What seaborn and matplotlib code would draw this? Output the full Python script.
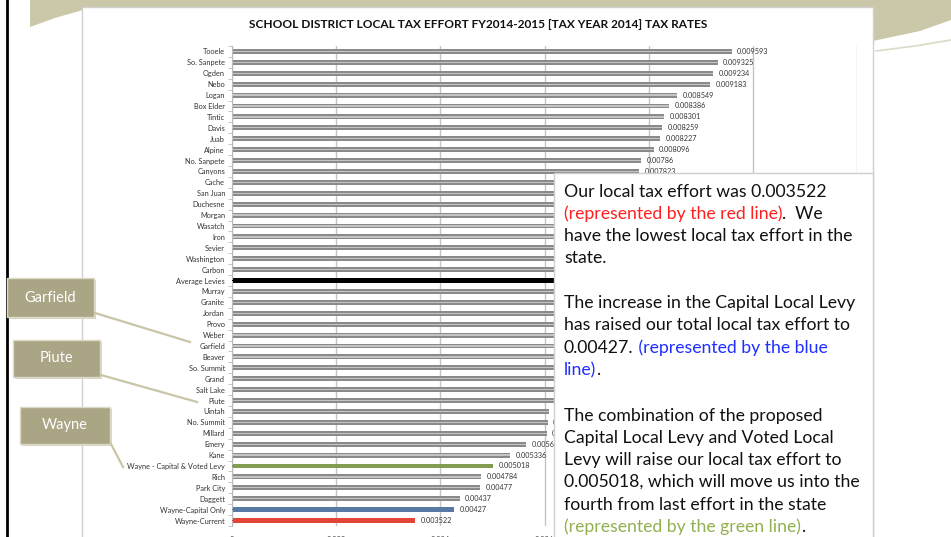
import numpy as np
import pandas as pd
import matplotlib
matplotlib.use("Agg")
import matplotlib.pyplot as plt
import seaborn as sns
from matplotlib.patches import Rectangle, Polygon

# ----------------------------
# Data (bars hidden behind the text box are estimated)
# ----------------------------
districts = [
    "Tooele", "So. Sanpete", "Ogden", "Nebo", "Logan", "Box Elder", "Tintic",
    "Davis", "Juab", "Alpine", "No. Sanpete", "Canyons", "Cache", "San Juan",
    "Duchesne", "Morgan", "Wasatch", "Iron", "Sevier", "Washington", "Carbon",
    "Average Levies", "Murray", "Granite", "Jordan", "Provo", "Weber",
    "Garfield", "Beaver", "So. Summit", "Grand", "Salt Lake", "Piute",
    "Uintah", "No. Summit", "Millard", "Emery", "Kane",
    "Wayne - Capital & Voted Levy", "Rich", "Park City", "Daggett",
    "Wayne-Capital Only", "Wayne-Current",
]
rates = [
    0.009593, 0.009325, 0.009234, 0.009183, 0.008549, 0.008386, 0.008301,
    0.008259, 0.008227, 0.008096, 0.00786, 0.007823, 0.00775, 0.00768,
    0.0076, 0.00752, 0.00745, 0.00735, 0.00728, 0.0072, 0.00712,
    0.00705, 0.00698, 0.0069, 0.00682, 0.00675, 0.00668,
    0.0066, 0.00652, 0.00645, 0.00638, 0.0063, 0.00622,
    0.00609, 0.00606, 0.00604, 0.005648, 0.005336,
    0.005018, 0.004784, 0.00477, 0.00437,
    0.00427, 0.003522,
]
highlight = {
    "Average Levies": "#000000",
    "Wayne - Capital & Voted Levy": "#86a844",
    "Wayne-Capital Only": "#4a78b0",
    "Wayne-Current": "#ff2b1c",
}
xticks = [0, 0.002, 0.004, 0.006, 0.008, 0.010, 0.012]
xtick_labels = ["0", "0.002", "0.004", "0.006", "0.008", "0.01", "0.012"]

df = pd.DataFrame({"District": districts, "Rate": rates})
palette = {d: highlight.get(d, "#8a8a8a") for d in districts}
shine = {d: ("#c4c4c4" if d not in highlight else highlight[d]) for d in districts}

W, H = 951, 537
fig = plt.figure(figsize=(W / 100, H / 100), dpi=100)
fig.patch.set_facecolor("white")

# ----------------------------
# Slide background (pixel coords)
# ----------------------------
bg = fig.add_axes([0, 0, 1, 1], zorder=-5)
bg.set_xlim(0, W)
bg.set_ylim(H, 0)
bg.axis("off")
bg.add_patch(Polygon([(30, 0), (951, 0), (951, 20), (920, 31), (873, 41),
                      (83, 10), (55, 18), (30, 27)], closed=True,
                     facecolor="#cbc8aa", edgecolor="none"))
bg.plot([876, 915, 951], [51, 46, 40], color="#dcd9c6", lw=1.2)
bg.add_patch(Rectangle((82, 7), 791, 540, facecolor="white",
                       edgecolor="#d0d0d0", lw=1))
bg.plot([7, 7], [0, H], color="black", lw=2)

fig.text(478 / W, 1 - 25 / H,
         "SCHOOL DISTRICT LOCAL TAX EFFORT FY2014-2015 [TAX YEAR 2014] TAX RATES",
         ha="center", va="center", fontsize=8.6, fontweight="bold",
         family=["Lato", "DejaVu Sans"], color="#111111")

# ----------------------------
# Bar chart
# ----------------------------
ax = fig.add_axes([232 / W, 1 - 526 / H, (857 - 232) / W, (526 - 46) / H])
ax.patch.set_alpha(0)
sns.barplot(data=df, x="Rate", y="District", hue="District", palette=palette,
            legend=False, width=0.45, ax=ax, zorder=2)
for c, v in zip(ax.containers, rates):
    ax.bar_label(c, labels=[f"{v:g}"], padding=4, fontsize=5.2,
                 color="#333333", family=["Lato", "DejaVu Sans"])
sns.barplot(data=df, x="Rate", y="District", hue="District", palette=shine,
            legend=False, width=0.12, ax=ax, zorder=3)

ax.set_xlim(0, 0.012)
ax.set_ylim(len(districts) - 0.5, -0.5)
ax.set_xticks(xticks)
ax.set_xticklabels(xtick_labels, fontsize=5.5, color="#444444",
                   family=["Lato", "DejaVu Sans"])
ax.tick_params(axis="x", length=0, pad=7)
ax.tick_params(axis="y", length=0, pad=5, labelsize=5.3, labelcolor="#333333")
for lab in ax.get_yticklabels():
    lab.set_family(["Lato", "DejaVu Sans"])
ax.set_yticks(np.arange(-0.5, len(districts), 1), minor=True)
ax.tick_params(axis="y", which="minor", length=3, color="#bbbbbb", width=0.6)
ax.grid(axis="x", color="#c4c4c4", lw=1.0, zorder=0)
ax.set_axisbelow(True)
ax.set_xlabel("")
ax.set_ylabel("")
for s in ["top", "right", "bottom"]:
    ax.spines[s].set_visible(False)
ax.spines["left"].set_color("#bbbbbb")
ax.spines["left"].set_linewidth(0.8)

# ----------------------------
# Overlay: callouts and text box
# ----------------------------
ov = fig.add_axes([0, 0, 1, 1], zorder=10)
ov.set_xlim(0, W)
ov.set_ylim(H, 0)
ov.axis("off")
ov.patch.set_alpha(0)

callouts = [
    ("Garfield", (7, 278, 87, 39), [(95, 313), (190, 342)]),
    ("Piute", (13, 340, 87, 37), [(101, 375), (197, 402)]),
    ("Wayne", (20, 407, 90, 37), [(111, 444), (123, 467)]),
]
for name, (x0, y0, w, h), line in callouts:
    ov.add_patch(Rectangle((x0 + 2, y0 + 2), w, h, facecolor="#d8d6c8",
                           edgecolor="none"))
    ov.add_patch(Rectangle((x0, y0), w, h, facecolor="#aaa584",
                           edgecolor="#dcd9c6", lw=1))
    ov.text(x0 + w / 2, y0 + h / 2, name, ha="center", va="center",
            color="white", fontsize=10.5, family=["Lato", "DejaVu Sans"])
    ov.plot([p[0] for p in line], [p[1] for p in line], color="#c9c5a6", lw=1.6)

ov.add_patch(Rectangle((554, 173), 319, 380, facecolor="white",
                       edgecolor="#cfcfcf", lw=1))

renderer = fig.canvas.get_renderer()
red, blue, green, black = "#ff1f1f", "#1f2fff", "#92b050", "#111111"
lines = [
    (197, [("Our local tax effort was 0.003522", black)]),
    (219, [("(represented by the red line)", red), (".  We", black)]),
    (241, [("have the lowest local tax effort in the", black)]),
    (263, [("state.", black)]),
    (308, [("The increase in the Capital Local Levy", black)]),
    (330, [("has raised our total local tax effort to", black)]),
    (353, [("0.00427.", black), (" (represented by the blue", blue)]),
    (375, [("line)", blue), (".", black)]),
    (421, [("The combination of the proposed", black)]),
    (443, [("Capital Local Levy and Voted Local", black)]),
    (465, [("Levy will raise our local tax effort to", black)]),
    (487, [("0.005018, which will move us into the", black)]),
    (510, [("fourth from last effort in the state", black)]),
    (532, [("(represented by the green line)", green), (".", black)]),
]
for yb, parts in lines:
    x = 564
    for s, col in parts:
        t = ov.text(x, yb, s, color=col, fontsize=12.7, ha="left",
                    va="baseline", family=["Lato", "DejaVu Sans"])
        x += t.get_window_extent(renderer).width

fig.savefig("out.png", dpi=100)
